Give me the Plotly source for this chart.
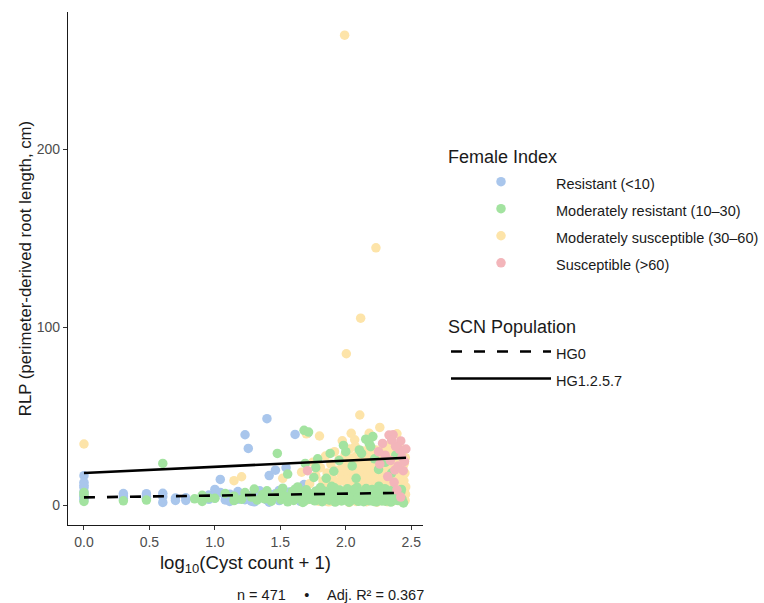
import numpy as np
import plotly.graph_objects as go

# ---- Female Index: Resistant (<10) ----
cysts_res = [0, 0, 0, 0, 0, 0, 0, 0, 1, 1, 1, 2, 2, 2, 3, 3, 3, 4, 4, 5, 5, 8, 8,
             9, 9, 9, 10, 10, 11, 11, 12, 12, 13, 14, 14, 16, 16, 17, 17, 18, 19, 19,
             21, 21, 24, 24, 25, 25, 26, 28, 28, 30, 30, 34, 34, 36, 36, 40, 40, 44,
             47, 50, 50, 55, 60, 66, 70, 85, 99, 114, 144, 144, 160, 199, 230]
rlp_res = [16.5, 12.8, 9.9, 7.4, 5.3, 4.2, 3.1, 11.2, 6.5, 3.7, 5.1, 6.4, 3.8, 5.0,
           4.7, 1.5, 6.6, 2.6, 3.9, 2.6, 4.1, 5.6, 3.2, 8.8, 4.0, 6.2, 14.4, 7.1, 5.0,
           2.9, 6.1, 2.0, 4.4, 7.6, 3.3, 39.5, 3.0, 31.8, 5.4, 2.2, 6.3, 1.8, 4.1, 8.0,
           48.5, 2.9, 16.6, 1.6, 5.7, 19.6, 6.4, 2.5, 8.2, 21.0, 4.3, 3.0, 7.3, 39.7,
           5.1, 2.1, 11.5, 40.3, 6.0, 3.4, 8.1, 4.6, 2.3, 6.7, 3.1, 7.2, 9.4, 8.4, 5.2,
           2.8, 6.5]

# ---- Female Index: Moderately resistant (10-30) ----
cysts_modres = [0, 0, 0, 1, 2, 3,
                6, 7, 7, 8, 9, 11, 13, 13, 15, 16,
                18, 19, 20, 22, 23, 24, 26, 27, 29, 31,
                32, 33, 35, 37, 38, 39, 41, 42, 43, 45,
                46, 48, 49, 52, 54, 57, 58, 61, 63, 65,
                67, 69, 72, 74, 77, 79, 82, 84, 87, 89,
                92, 94, 97, 100, 102, 105, 107, 110, 112, 116,
                118, 121, 124, 127, 130, 133, 136, 139, 142, 146,
                149, 152, 155, 158, 162, 166, 170, 174, 178, 182,
                186, 190, 195, 200, 205, 210, 215, 220, 226, 232,
                238, 244, 250, 256, 262, 268, 275,
                40, 47, 53, 60, 68, 75, 81, 90, 96, 103,
                109, 115, 122, 128, 134, 140, 145, 151, 157, 163,
                168, 172, 176, 180, 184, 188, 193, 198, 203, 208,
                213, 218, 223, 229, 235, 241, 247, 253, 259, 265,
                29, 47, 35, 48, 75, 131, 150, 154, 51, 60,
                88, 99, 111, 126, 141, 165, 177, 199, 223, 80,
                70, 56, 119, 58, 95, 160, 240]
rlp_modres = [5.6, 2.0, 7.0, 2.4, 2.8, 23.4,
              3.5, 5.5, 2.0, 4.0, 3.8, 6.5, 2.5, 5.0, 3.2, 7.0,
              4.5, 9.0, 2.8, 5.8, 3.5, 8.0, 2.2, 4.8, 6.5, 3.0,
              9.5, 5.2, 1.8, 4.2, 7.5, 2.6, 5.5, 10.2, 3.8, 6.8,
              1.5, 4.5, 8.6, 3.2, 5.9, 2.4, 7.8, 4.0, 9.8, 1.9,
              5.3, 3.1, 6.9, 2.7, 10.5, 4.4, 1.7, 6.2, 3.6, 8.4,
              2.3, 5.1, 7.0, 3.3, 9.1, 1.6, 4.9, 6.4, 2.9, 8.0,
              4.2, 10.0, 2.1, 5.7, 3.8, 7.3, 1.9, 5.0, 9.3, 3.1,
              6.6, 2.4, 4.6, 8.7, 3.5, 6.0, 1.8, 4.8, 10.6, 2.7,
              7.1, 4.0, 5.8, 2.2, 8.2, 3.6, 6.3, 1.7, 4.5, 9.0,
              3.0, 6.8, 2.5, 5.2, 7.6, 3.4, 1.2,
              8.9, 2.0, 6.1, 3.9, 7.7, 5.4, 9.7, 4.1, 6.0, 2.6,
              5.6, 8.8, 3.9, 7.0, 4.4, 2.8, 6.2, 8.1, 4.9, 2.0,
              7.4, 5.6, 3.2, 8.3, 6.0, 2.3, 4.3, 9.2, 6.7, 3.0,
              5.0, 7.9, 2.4, 5.9, 4.2, 7.2, 2.9, 6.1, 4.0, 8.8,
              29.0, 42.0, 17.4, 23.4, 29.0, 29.0, 34.6, 32.8, 41.0, 26.0,
              25.0, 30.0, 22.0, 31.0, 37.0, 26.0, 20.0, 24.0, 18.0, 19.0,
              15.0, 15.5, 15.0, 21.0, 33.5, 38.5, 28.0]

# ---- Female Index: Moderately susceptible (30-60) ----
cysts_modsus = [0, 97, 169, 129, 100, 127, 181, 62, 109, 150,
                245, 93, 116, 13, 15, 32, 49,
                45, 52, 55, 58, 63, 66, 69, 71, 74, 76,
                78, 81, 83, 86, 88, 91, 93, 95, 98, 100,
                101, 103, 104, 106, 108, 110, 111, 113, 115, 117,
                118, 120, 121, 123, 124, 126, 128, 129, 131, 132,
                134, 135, 137, 138, 140, 141, 143, 144, 146, 147,
                149, 150, 152, 153, 155, 156, 158, 159, 161, 162,
                164, 165, 167, 168, 170, 171, 173, 174, 176, 177,
                179, 180, 182, 184, 185, 187, 188, 190, 192, 193,
                195, 197, 198, 200, 202, 204, 205, 207, 209, 211,
                212, 214, 216, 218, 220, 222, 224, 226, 228, 230,
                232, 234, 236, 238, 240, 242, 244, 246, 248, 251,
                253, 255, 258, 260, 263, 265, 267, 270, 272, 275,
                277, 279, 282, 284, 286,
                50, 56, 61, 64, 68, 73, 77, 80, 84, 87,
                90, 94, 97, 102, 105, 108, 112, 116, 119, 122,
                125, 130, 133, 136, 139, 143, 147, 151, 154, 157,
                161, 164, 169, 172, 175, 178, 183, 186, 191, 194,
                199, 203, 206, 210, 214, 219, 224, 227, 233, 237,
                241, 245, 249, 254, 257, 261, 266, 271, 276, 280,
                283, 285]
rlp_modsus = [34.3, 264.0, 144.5, 105.0, 85.0, 50.6, 43.6, 38.8, 40.3, 40.3,
              40.0, 36.1, 36.7, 13.7, 15.9, 15.0, 40.0,
              18.5, 12.0, 24.0, 16.5, 21.0, 13.5, 27.5, 18.0, 10.5, 23.0,
              15.2, 30.0, 19.5, 12.8, 25.5, 17.0, 22.0, 14.0, 28.5, 20.0,
              11.5, 24.5, 16.0, 31.5, 19.0, 13.0, 26.5, 21.5, 17.5, 33.0,
              23.5, 14.5, 28.0, 19.8, 11.0, 25.0, 16.8, 22.5, 30.5, 13.8,
              20.5, 26.0, 17.2, 23.0, 12.2, 29.0, 21.0, 15.5, 25.8, 18.8,
              32.0, 22.0, 14.2, 27.0, 19.5, 24.0, 10.8, 29.5, 17.8, 23.8,
              13.2, 26.8, 20.2, 31.0, 16.2, 22.8, 28.2, 12.5, 19.0, 25.2,
              15.0, 30.0, 21.8, 17.0, 26.2, 11.8, 23.2, 19.2, 28.8, 14.8,
              24.8, 20.8, 33.5, 16.8, 27.2, 12.8, 22.2, 18.2, 29.8, 24.2,
              15.8, 20.0, 26.5, 13.0, 31.8, 22.5, 17.6, 27.8, 19.8, 11.2,
              25.5, 21.2, 16.0, 29.2, 23.0, 18.6, 14.0, 26.0, 20.6, 32.5,
              24.6, 17.4, 12.4, 22.0, 28.6, 19.4, 25.0, 15.6, 21.6, 30.8,
              13.6, 23.4, 18.0, 26.6, 10.2,
              3.0, 6.5, 2.2, 8.5, 4.4, 1.8, 7.2, 3.6, 9.4, 5.0,
              2.5, 6.8, 4.0, 8.0, 1.5, 5.5, 3.2, 7.6, 2.0, 9.0,
              4.6, 6.2, 2.8, 8.6, 5.2, 1.9, 7.0, 3.8, 9.6, 5.8,
              2.4, 7.8, 4.2, 1.6, 6.4, 3.0, 8.8, 5.4, 2.6, 7.4,
              4.8, 9.2, 1.9, 6.0, 3.4, 8.2, 5.0, 2.2, 7.0, 4.0,
              9.8, 6.6, 2.8, 5.6, 8.4, 3.6, 6.8, 1.8, 4.6, 8.0,
              2.6, 6.0]

# ---- Female Index: Susceptible (>60) ----
cysts_sus = [213, 229, 190, 256, 287, 274, 233, 236, 199, 218,
             250, 262, 177, 239, 268, 208, 50, 245, 181, 280,
             223, 262]
rlp_sus = [39.3, 39.5, 34.6, 31.3, 31.5, 19.3, 12.8, 19.7, 28.0, 25.0,
           22.0, 36.0, 30.0, 33.0, 27.0, 16.0, 19.3, 8.5, 23.0, 24.5,
           36.5, 4.5]

# ---- Fitted lines per SCN population (log10 cyst scale) ----
fit_log_cyst = [0.0, 2.46]
fit_hg0 = [4.3, 6.9]
fit_hg1257 = [18.0, 26.6]
adj_r2 = 0.367

x_ticks = [0.0, 0.5, 1.0, 1.5, 2.0, 2.5]
y_ticks = [0, 100, 200]

FONT = "Liberation Sans, Arial, Helvetica, sans-serif"
ITEM_PX = 14.5

def item_label(text):
    return f'<span style="font-size:{ITEM_PX}px">{text}</span>'

groups = [
    # (label, cysts, rlp, colour, legend rank) - listed in drawing order
    ("Resistant (&lt;10)", cysts_res, rlp_res, "#a9c6ec", 1),
    ("Moderately susceptible (30–60)", cysts_modsus, rlp_modsus, "#fde4a9", 3),
    ("Moderately resistant (10–30)", cysts_modres, rlp_modres, "#a3e3a0", 2),
    ("Susceptible (&gt;60)", cysts_sus, rlp_sus, "#f3b5ba", 4),
]

fig = go.Figure()
n_total = 0
for label, cysts, rlp, colour, rank in groups:
    n_total += len(cysts)
    fig.add_trace(go.Scatter(
        x=np.log10(np.asarray(cysts) + 1.0), y=rlp, mode="markers",
        name=item_label(label), legend="legend", legendrank=rank,
        marker=dict(size=9.5, color=colour, line=dict(width=0)),
    ))

fig.add_trace(go.Scatter(
    x=fit_log_cyst, y=fit_hg0, mode="lines", name=item_label("HG0"),
    legend="legend2", legendrank=1,
    line=dict(color="black", width=2.6, dash="11px,12px"),
))
fig.add_trace(go.Scatter(
    x=fit_log_cyst, y=fit_hg1257, mode="lines", name=item_label("HG1.2.5.7"),
    legend="legend2", legendrank=2,
    line=dict(color="black", width=2.6),
))

axis_common = dict(
    showgrid=False, zeroline=False, showline=True, linecolor="#1a1a1a",
    linewidth=1.3, ticks="outside", ticklen=4, tickwidth=1.1, tickcolor="#333333",
    tickfont=dict(size=14, color="#4d4d4d", family=FONT),
)

legend_common = dict(
    xanchor="left", yanchor="top", itemwidth=100,
    font=dict(size=18.5, color="#1a1a1a"),
    bgcolor="rgba(0,0,0,0)", itemclick=False,
)

fig.update_layout(
    width=764, height=603,
    margin=dict(l=68, r=341, t=12, b=78, autoexpand=False),
    paper_bgcolor="white", plot_bgcolor="white",
    font=dict(family=FONT, color="#1a1a1a"),
    xaxis=dict(range=[-0.122, 2.59], tickvals=x_ticks, tickformat=".1f",
               title=dict(text="log<sub>10</sub>(Cyst count + 1)",
                          font=dict(size=18.6, color="#1a1a1a"), standoff=7),
               **axis_common),
    yaxis=dict(range=[-11.2, 277], tickvals=y_ticks,
               title=dict(text="RLP (perimeter-derived root length, cm)",
                          font=dict(size=16.8, color="#1a1a1a"), standoff=0),
               **axis_common),
    legend=dict(title=dict(text="Female Index", font=dict(size=18)),
                x=1.0648, y=0.751, **legend_common),
    legend2=dict(title=dict(text="SCN Population", font=dict(size=18)),
                 x=1.0648, y=0.42, **legend_common),
    annotations=[dict(
        text=f"n = {n_total}\u2003 •\u2003 Adj. R² = {adj_r2:.3f}",
        xref="paper", yref="paper", x=1.008, y=-0.1365,
        xanchor="right", yanchor="middle", showarrow=False,
        font=dict(size=14.5, color="#1a1a1a"),
    )],
)

fig.write_html("out.html")
